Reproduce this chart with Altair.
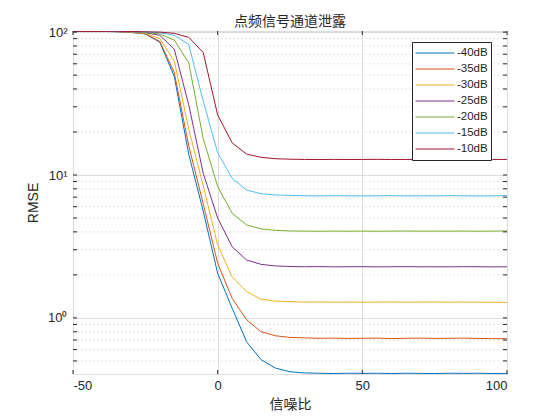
import altair as alt
import pandas as pd

snr = list(range(-50, 105, 5))
labels = ["-40dB", "-35dB", "-30dB", "-25dB", "-20dB", "-15dB", "-10dB"]
colors = ["#0072BD", "#D95319", "#EDB120", "#7E2F8E", "#77AC30", "#4DBEEE", "#A2142F"]

rmse_40 = [101.0, 101.3, 101.1, 100.6, 99.5, 97.0, 85.0, 49.0, 14.0, 5.6, 2.05, 1.17, 0.68, 0.51, 0.445, 0.42,
           0.412, 0.41, 0.408, 0.41, 0.409, 0.41, 0.408, 0.41, 0.409, 0.408, 0.41, 0.409, 0.41, 0.408, 0.409]
rmse_35 = [101.2, 101.0, 101.3, 100.8, 99.6, 97.5, 86.0, 52.0, 16.0, 6.3, 2.41, 1.37, 0.97, 0.80, 0.75, 0.73,
           0.725, 0.72, 0.722, 0.718, 0.72, 0.722, 0.717, 0.72, 0.722, 0.718, 0.72, 0.722, 0.718, 0.716, 0.715]
rmse_30 = [101.1, 101.2, 100.9, 101.0, 100.0, 98.0, 90.0, 63.0, 21.0, 8.4, 3.24, 1.94, 1.53, 1.35, 1.31, 1.30,
           1.29, 1.292, 1.288, 1.29, 1.287, 1.29, 1.292, 1.288, 1.29, 1.291, 1.289, 1.29, 1.288, 1.286, 1.285]
rmse_25 = [101.0, 101.3, 101.2, 100.9, 100.4, 99.0, 95.0, 76.0, 31.0, 10.3, 5.0, 3.15, 2.54, 2.37, 2.31, 2.29,
           2.28, 2.285, 2.278, 2.28, 2.283, 2.276, 2.28, 2.284, 2.279, 2.28, 2.277, 2.282, 2.28, 2.276, 2.278]
rmse_20 = [101.3, 101.1, 101.0, 101.2, 100.7, 99.5, 97.0, 88.0, 61.0, 18.0, 8.3, 5.4, 4.47, 4.2, 4.1, 4.06,
           4.05, 4.04, 4.052, 4.045, 4.05, 4.043, 4.05, 4.055, 4.046, 4.05, 4.048, 4.052, 4.045, 4.05, 4.06]
rmse_15 = [101.0, 101.2, 101.3, 101.1, 100.8, 100.0, 99.0, 95.0, 82.0, 33.0, 14.3, 9.5, 7.85, 7.4, 7.25, 7.2,
           7.16, 7.15, 7.17, 7.16, 7.14, 7.16, 7.17, 7.15, 7.16, 7.15, 7.17, 7.16, 7.14, 7.15, 7.18]
rmse_10 = [101.2, 101.0, 101.1, 101.3, 101.0, 100.5, 100.0, 98.0, 92.0, 72.0, 26.3, 16.8, 14.0, 13.3, 13.0, 12.9,
           12.85, 12.83, 12.86, 12.84, 12.85, 12.87, 12.84, 12.85, 12.83, 12.86, 12.84, 12.85, 12.82, 12.84, 12.86]
series = [rmse_40, rmse_35, rmse_30, rmse_25, rmse_20, rmse_15, rmse_10]

x_ticks = [-50, 0, 50, 100]
y_major = [1, 10, 100]
y_minor = [0.5, 0.6, 0.7, 0.8, 0.9, 2, 3, 4, 5, 6, 7, 8, 9, 20, 30, 40, 50, 60, 70, 80, 90]

rows = []
for lab, vals in zip(labels, series):
    for x, v in zip(snr, vals):
        rows.append({"snr": x, "rmse": v, "series": lab})
df = pd.DataFrame(rows)

W, H = 434, 343
AX = "#262626"
xs = alt.Scale(domain=[-50, 100], nice=False, zero=False)
ys = alt.Scale(type="log", domain=[0.405, 101.8], nice=False)

x_axis = alt.Axis(
    values=x_ticks, grid=True, gridColor="#dcdcdc", ticks=False, domain=False,
    labelExpr="datum.value < 0 ? '-' + abs(datum.value) : '' + datum.value",
    labelFont="Liberation Sans", labelFontSize=13, labelColor=AX, labelPadding=5,
    title="信噪比", titleFont="Noto Sans CJK SC", titleFontSize=14, titleFontWeight="normal",
    titleColor=AX, titlePadding=5)
y_axis = alt.Axis(
    values=y_major, grid=True, gridColor="#dcdcdc", ticks=False, domain=False,
    labelExpr="datum.value == 100 ? '10²' : (datum.value == 10 ? '10¹' : '10⁰')",
    labelFont="Liberation Sans", labelFontSize=13, labelColor=AX, labelPadding=6,
    title="RMSE", titleFont="Liberation Sans", titleFontSize=14, titleFontWeight="normal",
    titleColor=AX, titlePadding=7)

minor_df = pd.DataFrame({"v": y_minor})
ytick_df = pd.DataFrame({"v": y_minor + y_major})
xtick_df = pd.DataFrame({"v": x_ticks})

lines = alt.Chart(df).mark_line(strokeWidth=1, clip=True).encode(
    x=alt.X("snr:Q", scale=xs, axis=x_axis),
    y=alt.Y("rmse:Q", scale=ys, axis=y_axis),
    color=alt.Color("series:N", scale=alt.Scale(domain=labels, range=colors), legend=alt.Legend(
        title=None, orient="none", legendX=339, legendY=11, direction="vertical",
        symbolType="stroke", symbolSize=1521, symbolStrokeWidth=1, clipHeight=16,
        padding=3, rowPadding=0, labelOffset=2, labelFont="Liberation Sans", labelFontSize=11.5,
        labelColor=AX, strokeColor=AX, fillColor="white", cornerRadius=0)),
    detail="series:N",
)

minor_grid = alt.Chart(minor_df).mark_rule(color="#dadada", strokeDash=[1.5, 2.5], strokeWidth=1).encode(
    y=alt.Y("v:Q", scale=ys, axis=y_axis)
)

ytick_l = alt.Chart(ytick_df).mark_rule(color=AX, strokeWidth=1).encode(
    y=alt.Y("v:Q", scale=ys, axis=y_axis), x=alt.value(0), x2=alt.value(4))
ytick_r = alt.Chart(ytick_df).mark_rule(color=AX, strokeWidth=1).encode(
    y=alt.Y("v:Q", scale=ys, axis=y_axis), x=alt.value(W - 4), x2=alt.value(W))
xtick_b = alt.Chart(xtick_df).mark_rule(color=AX, strokeWidth=1).encode(
    x=alt.X("v:Q", scale=xs, axis=x_axis), y=alt.value(H - 4), y2=alt.value(H))
xtick_t = alt.Chart(xtick_df).mark_rule(color=AX, strokeWidth=1).encode(
    x=alt.X("v:Q", scale=xs, axis=x_axis), y=alt.value(0), y2=alt.value(4))

chart = alt.layer(minor_grid, lines, ytick_l, ytick_r, xtick_b, xtick_t).properties(
    width=W, height=H,
    title=alt.TitleParams("点频信号通道泄露", font="Noto Sans CJK SC", fontSize=14, fontWeight="normal",
                          color=AX, anchor="middle", offset=0, dy=3),
    autosize=alt.AutoSizeParams(type="none"),
    padding={"left": 65, "top": 23, "right": 45, "bottom": 38},
).configure_view(stroke=AX, strokeWidth=1).configure(background="white")

chart.save("out.html", embed_options={"renderer": "svg", "actions": False})
